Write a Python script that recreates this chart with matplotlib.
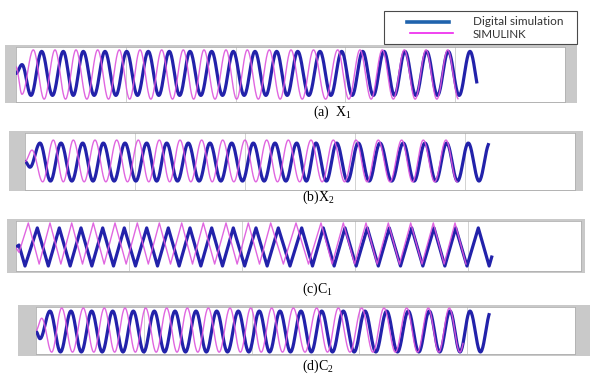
import numpy as np
import matplotlib
matplotlib.use("Agg")
import matplotlib.pyplot as plt
from matplotlib.patches import Rectangle
from matplotlib.lines import Line2D

plt.rcParams['mathtext.fontset'] = 'custom'
plt.rcParams['mathtext.rm'] = 'Liberation Serif'
plt.rcParams['mathtext.it'] = 'Liberation Serif:italic'

# ---------------- data (time in ms, signals in p.u.) ----------------
captions = [r"(a)  $\mathrm{X}_1$", r"(b)$\mathrm{X}_2$", r"(c)$\mathrm{C}_1$", r"(d)$\mathrm{C}_2$"]
legend_labels = ["Digital simulation", "SIMULINK"]

# panel (a) X1
a_xmax = 549
a_ylim = (-1.25, 1.25)
a_blue_pre_t = [0, 6, 15]
a_blue_pre_y = [0.05, 0.45, -0.95]
a_blue_peaks = [25.7, 47.3, 67.3, 89, 110.7, 132.3, 153.3, 174, 195.7, 217.3, 239,
                260.7, 281.7, 304, 325.7, 346.7, 368, 389, 410.7, 432.3, 454, 475.4]
a_blue_amp, a_blue_ctr, a_blue_end = 1.0, 0.05, 460.7
a_mag_pre_t = [0, 6]
a_mag_pre_y = [0.35, -0.9]
a_mag_peaks = [17.3, 39, 60, 81.7, 103.3, 124, 145.7, 167.3, 188, 210, 231.3, 253.3,
               275, 297.5, 321.7, 344, 366.3, 388.3, 410, 431.7, 453.5]
a_mag_amp, a_mag_ctr, a_mag_end = 1.12, 0.0, 442

# panel (b) X2
b_xmax = 550
b_ylim = (-1.5, 1.5)
b_blue_pre_t = [0, 5]
b_blue_pre_y = [0.0, -0.3]
b_blue_peaks = [15, 36, 57.7, 78.3, 100, 121.7, 141.7, 163.3, 185, 206.7, 228.3, 250,
                271.7, 291, 311.7, 333.3, 355, 378.3, 400, 421.7, 443.3, 464.7]
b_blue_amp, b_blue_ctr, b_blue_end = 1.0, -0.03, 463.3
b_mag_pre_t = [0, 7, 17.7]
b_mag_pre_y = [0.0, 0.6, -1.07]
b_mag_peaks = [28.3, 48.3, 70, 91.7, 113.3, 134.3, 155, 176.7, 197.7, 220, 241.7, 263.3,
               286, 308.3, 331, 353.3, 376.7, 398.3, 421, 443]
b_mag_amp, b_mag_ctr, b_mag_end = 1.1, 0.03, 432

# panel (c) C1 (triangular)
c_xmax = 565
c_ylim = (-1.3, 1.3)
c_blue_pre_t = [0, 3, 9]
c_blue_pre_y = [-0.05, 0.05, -1.04]
c_blue_peaks = [21.3, 43.3, 65, 86.7, 108.3, 130.7, 152.3, 174, 195.7, 217.3, 240, 262.3,
                285.7, 307.3, 329, 351.3, 373.3, 395.7, 418, 439.7, 462.3, 484]
c_blue_amp, c_blue_ctr, c_blue_end = 0.99, -0.05, 475.7
c_mag_pre_t = [0, 3]
c_mag_pre_y = [-0.1, -0.33]
c_mag_peaks = [12.3, 34, 55.7, 77.3, 99, 121.3, 143.3, 165.7, 187.3, 210, 232.3, 254.7,
               280, 305, 327.3, 350, 372.3, 394.7, 417.3, 439, 461]
c_mag_amp, c_mag_ctr, c_mag_end = 1.07, 0.13, 450

# panel (d) C2
d_xmax = 539
d_ylim = (-1.15, 1.15)
d_blue_pre_t = [0, 4]
d_blue_pre_y = [-0.05, -0.4]
d_blue_peaks = [14, 35, 55.7, 76.7, 97.3, 118.3, 139, 160, 180.7, 202.3, 223.3, 244,
                265, 285.7, 307.3, 329, 350.7, 372.3, 393.3, 414, 434, 455]
d_blue_amp, d_blue_ctr, d_blue_end = 1.0, -0.05, 453
d_mag_pre_t = [0, 5.7, 15.7]
d_mag_pre_y = [0.0, 0.6, -1.06]
d_mag_peaks = [25.7, 47.3, 68.3, 89, 109.7, 130.7, 151.3, 172.3, 194, 214.7, 235.7, 257.3,
               280.7, 302.3, 325.7, 348, 370.7, 392.3, 413.3, 434.5]
d_mag_amp, d_mag_ctr, d_mag_end = 1.08, 0.02, 427

# ---------------- helpers ----------------
def build_wave(pre_t, pre_y, peaks, amp, ctr, t_end, shape):
    ts = list(pre_t)
    ys = list(pre_y)
    for i, p in enumerate(peaks):
        if i > 0:
            ts.append((peaks[i - 1] + p) / 2.0)
            ys.append(ctr - amp)
        ts.append(p)
        ys.append(ctr + amp)
    out_t, out_y = [], []
    s = np.linspace(0, 1, 24)
    w = (1 - np.cos(np.pi * s)) / 2 if shape == "sine" else s
    for k in range(len(ts) - 1):
        out_t.append(ts[k] + (ts[k + 1] - ts[k]) * s)
        out_y.append(ys[k] + (ys[k + 1] - ys[k]) * w)
    t = np.concatenate(out_t)
    y = np.concatenate(out_y)
    y_end = np.interp(t_end, t, y)
    m = t < t_end
    return np.append(t[m], t_end), np.append(y[m], y_end)

W, H = 593, 374
fig = plt.figure(figsize=(W / 100, H / 100), dpi=100)

def px_rect(x0, y0, x1, y1):
    return [x0 / W, 1 - y1 / H, (x1 - x0) / W, (y1 - y0) / H]

BLUE = "#2222aa"
MAG = "#dd55dd"
GRAY = "#c9c9c9"

panels = [
    dict(gray=(5, 45, 577, 103), white=(16, 47, 565, 102), xmax=a_xmax, ylim=a_ylim, shape="sine",
         blue=(a_blue_pre_t, a_blue_pre_y, a_blue_peaks, a_blue_amp, a_blue_ctr, a_blue_end),
         mag=(a_mag_pre_t, a_mag_pre_y, a_mag_peaks, a_mag_amp, a_mag_ctr, a_mag_end),
         cap=(313, 112)),
    dict(gray=(9, 131, 583, 191), white=(25, 133, 575, 190), xmax=b_xmax, ylim=b_ylim, shape="sine",
         blue=(b_blue_pre_t, b_blue_pre_y, b_blue_peaks, b_blue_amp, b_blue_ctr, b_blue_end),
         mag=(b_mag_pre_t, b_mag_pre_y, b_mag_peaks, b_mag_amp, b_mag_ctr, b_mag_end),
         cap=(302, 197)),
    dict(gray=(7, 219, 585, 273), white=(16, 221, 581, 271), xmax=c_xmax, ylim=c_ylim, shape="tri",
         blue=(c_blue_pre_t, c_blue_pre_y, c_blue_peaks, c_blue_amp, c_blue_ctr, c_blue_end),
         mag=(c_mag_pre_t, c_mag_pre_y, c_mag_peaks, c_mag_amp, c_mag_ctr, c_mag_end),
         cap=(302, 289)),
    dict(gray=(18, 305, 590, 356), white=(36, 307, 575, 354), xmax=d_xmax, ylim=d_ylim, shape="sine",
         blue=(d_blue_pre_t, d_blue_pre_y, d_blue_peaks, d_blue_amp, d_blue_ctr, d_blue_end),
         mag=(d_mag_pre_t, d_mag_pre_y, d_mag_peaks, d_mag_amp, d_mag_ctr, d_mag_end),
         cap=(302, 366)),
]

for i, p in enumerate(panels):
    gx0, gy0, gx1, gy1 = p["gray"]
    fig.patches.append(Rectangle((gx0 / W, 1 - gy1 / H), (gx1 - gx0) / W, (gy1 - gy0) / H,
                                 transform=fig.transFigure, facecolor=GRAY, edgecolor="none", zorder=-1))
    ax = fig.add_axes(px_rect(*p["white"]))
    ax.set_zorder(1)
    ax.set_facecolor("white")
    ax.set_xlim(0, p["xmax"])
    ax.set_ylim(*p["ylim"])
    ax.set_xticks(np.linspace(0, p["xmax"], 6)[1:-1])
    ax.set_yticks([])
    ax.tick_params(length=0, labelbottom=False, labelleft=False)
    ax.grid(axis="x", color="#d2d2d2", lw=0.7)
    for sp in ax.spines.values():
        sp.set_color("#b0b0b0")
        sp.set_linewidth(0.6)
    tb, yb = build_wave(*p["blue"], p["shape"])
    tm, ym = build_wave(*p["mag"], p["shape"])
    ax.plot(tb, yb, color=BLUE, lw=2.3, solid_joinstyle="round", zorder=3)
    ax.plot(tm, ym, color=MAG, lw=1.0, alpha=0.9, zorder=4)
    cx, cy = p["cap"]
    fig.text(cx / W, 1 - cy / H, captions[i], family="Liberation Serif", fontsize=10,
             ha="left", va="center")

# legend box
fig.patches.append(Rectangle((384 / W, 1 - 44 / H), (577 - 384) / W, (44 - 11) / H,
                             transform=fig.transFigure, facecolor="white", edgecolor="#4a4a4a",
                             lw=0.8, zorder=5))
fig.lines.append(Line2D([407 / W, 449 / W], [1 - 21.5 / H] * 2, transform=fig.transFigure,
                        color="#1f63ad", lw=2.6, zorder=6))
fig.lines.append(Line2D([410 / W, 453 / W], [1 - 33 / H] * 2, transform=fig.transFigure,
                        color="#ee22ee", lw=1.2, zorder=6))
fig.text(473 / W, 1 - 21.5 / H, legend_labels[0], family="Lato", fontsize=8.5,
         color="#333333", ha="left", va="center", zorder=7)
fig.text(473 / W, 1 - 34.5 / H, legend_labels[1], family="Lato", fontsize=8.3,
         color="#333333", ha="left", va="center", zorder=7)

fig.savefig("out.png", dpi=100)
